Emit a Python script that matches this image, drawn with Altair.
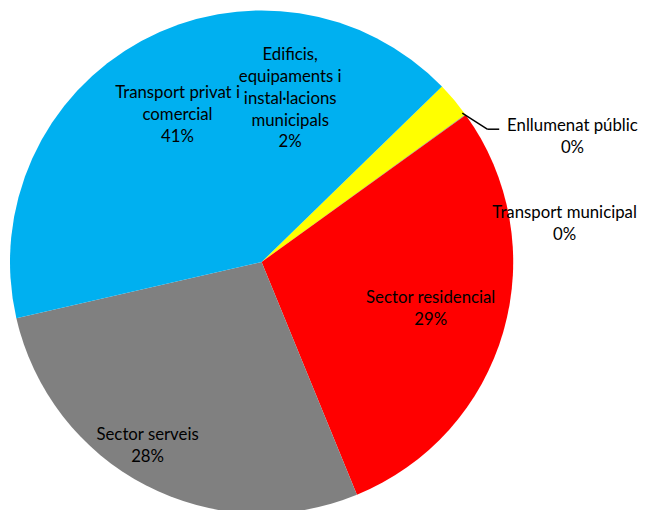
import math
import altair as alt
import pandas as pd

# ---- data ----
keys = ["edificis", "enllumenat", "tmunicipal", "residencial", "serveis", "privat"]
names = [
    "Edificis,\nequipaments i\ninstal·lacions\nmunicipals",
    "Enllumenat públic",
    "Transport municipal",
    "Sector residencial",
    "Sector serveis",
    "Transport privat i\ncomercial",
]
values = [2.3, 0.02, 0.02, 28.75, 27.6, 41.3]
colors = ["#FFFF00", "#4472C4", "#70AD47", "#FF0000", "#808080", "#00B0F0"]

df = pd.DataFrame({"key": keys, "name": names, "value": values,
                   "idx": list(range(len(keys)))})

start = math.radians(45.8)
theta_scale = alt.Scale(range=[start, start + 2 * math.pi])

base = alt.Chart(df).transform_joinaggregate(total="sum(value)").transform_window(
    cum="sum(value)", sort=[alt.SortField("idx")], frame=[None, 0]
).transform_calculate(
    mid="datum.cum - datum.value / 2",
    label="datum.name + '\\n' + format(datum.value / datum.total, '.0%')",
)

pie = base.mark_arc(radius=252, stroke=None).encode(
    theta=alt.Theta("value:Q", stack=True, scale=theta_scale),
    order=alt.Order("idx:Q"),
    color=alt.Color("key:N", scale=alt.Scale(domain=keys, range=colors), legend=None),
)

FONT = "Lato"


def label_layer(key, r, dx, dy):
    return base.transform_filter(f"datum.key == '{key}'").mark_text(
        radius=r, dx=dx, dy=dy, font=FONT, fontSize=16.8, lineBreak="\n",
        lineHeight=22, align="center", baseline="middle", color="#000000",
    ).encode(
        theta=alt.Theta("mid:Q", stack=None, scale=theta_scale),
        text=alt.Text("label:N"),
    )


labels = [
    label_layer("edificis", 172, -103, -97),
    label_layer("enllumenat", 172, 172, -35),
    label_layer("tmunicipal", 172, 164, 52),
    label_layer("residencial", 172, 4, -11),
    label_layer("serveis", 172, -35, 21),
    label_layer("privat", 172, -2, -18),
]

one = pd.DataFrame({"a": [0]})
leader1 = alt.Chart(one).mark_rule(color="#000000", strokeWidth=1.5).encode(
    x=alt.value(455), y=alt.value(105), x2=alt.value(480), y2=alt.value(121)
)
leader2 = alt.Chart(one).mark_rule(color="#000000", strokeWidth=1.5).encode(
    x=alt.value(480), y=alt.value(121), x2=alt.value(492), y2=alt.value(121)
)

chart = alt.layer(pie, *labels, leader1, leader2).properties(
    width=508, height=508, padding=0
).configure_view(stroke=None)

chart.save("out.html", embed_options={"renderer": "svg", "actions": False})
